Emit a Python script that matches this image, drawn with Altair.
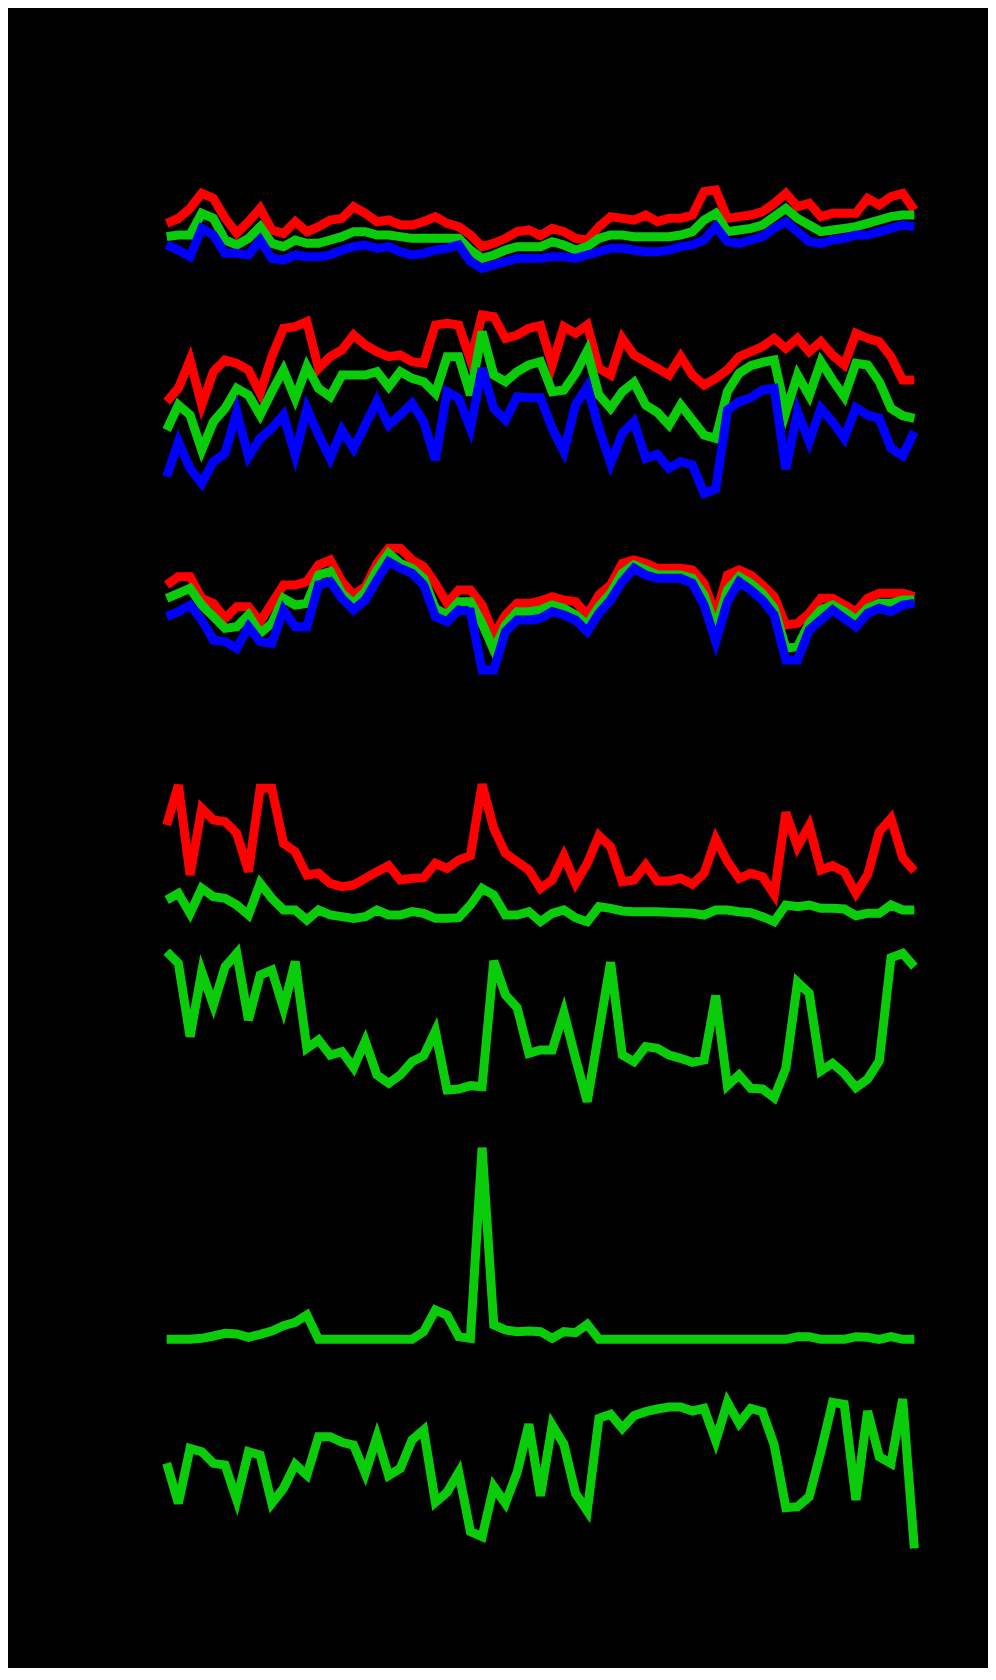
import altair as alt
import pandas as pd

idx = list(range(65))

# Panel A (three close RGB series)
a_red = [85.5, 87.0, 90.0, 94.5, 93.0, 87.0, 82.5, 86.0, 90.0, 83.5,
         82.5, 86.0, 83.0, 84.5, 86.5, 87.0, 90.5, 88.5, 86.0, 86.5,
         85.0, 85.0, 86.0, 87.5, 85.5, 84.5, 82.0, 78.5, 79.5, 81.0,
         83.0, 83.5, 81.8, 84.0, 83.0, 81.0, 80.5, 84.5, 87.5, 87.0,
         86.5, 88.0, 86.0, 87.0, 87.0, 88.0, 95.0, 95.5, 87.0, 87.5,
         88.0, 89.0, 91.5, 94.5, 90.5, 91.5, 87.5, 88.5, 88.5, 88.5,
         93.0, 91.0, 93.5, 94.5, 89.5]
a_green = [81.5, 82.0, 82.0, 88.5, 87.0, 80.5, 79.0, 81.0, 84.5, 79.5,
           78.5, 80.5, 79.5, 79.5, 80.5, 81.5, 83.0, 83.0, 82.0, 82.0,
           81.5, 81.0, 81.0, 81.0, 81.0, 81.0, 77.5, 75.0, 76.0, 77.5,
           78.5, 78.5, 78.5, 80.0, 79.0, 77.5, 78.5, 81.0, 82.0, 82.0,
           81.5, 81.5, 81.5, 81.5, 82.0, 83.0, 86.5, 88.5, 83.0, 83.5,
           84.0, 85.0, 87.5, 90.0, 87.0, 85.0, 83.0, 83.5, 84.0, 84.5,
           85.5, 86.5, 87.5, 88.0, 88.0]
a_blue = [79.0, 77.5, 75.5, 84.0, 82.0, 76.5, 76.5, 76.0, 80.5, 75.0,
          74.5, 76.0, 75.5, 75.5, 76.0, 77.5, 78.5, 79.0, 78.0, 78.5,
          77.0, 76.0, 76.5, 77.5, 78.0, 79.0, 74.0, 72.0, 73.0, 74.0,
          75.0, 75.0, 75.0, 75.5, 75.5, 75.0, 76.0, 77.0, 78.0, 78.0,
          77.5, 77.0, 77.0, 77.5, 78.5, 79.0, 80.5, 84.5, 80.0, 79.5,
          80.5, 81.5, 84.0, 86.0, 83.0, 80.0, 79.5, 80.5, 81.0, 82.0,
          82.0, 83.0, 84.0, 85.0, 84.5]

# Panel B (spread RGB series)
b_red = [32.5, 36.5, 45.0, 31.5, 41.5, 45.0, 44.0, 42.0, 35.0, 46.0,
         54.5, 55.0, 56.5, 42.5, 46.0, 48.0, 52.5, 49.5, 47.5, 46.0,
         46.5, 44.5, 44.0, 55.5, 56.0, 55.5, 45.0, 58.5, 58.0, 51.5,
         52.5, 54.5, 55.3, 43.5, 55.0, 53.0, 55.5, 42.5, 40.5, 51.5,
         46.5, 44.5, 42.5, 40.5, 46.0, 40.5, 37.5, 39.5, 42.0, 46.0,
         47.5, 49.0, 51.5, 48.5, 51.5, 47.5, 50.5, 46.5, 43.5, 53.0,
         51.5, 50.5, 46.0, 39.0, 39.0]
b_green = [24.0, 31.5, 28.5, 18.0, 26.5, 30.5, 36.5, 34.5, 28.5, 35.5,
           42.0, 33.5, 43.0, 36.5, 34.0, 40.5, 40.5, 40.5, 41.5, 37.0,
           41.5, 39.5, 38.5, 35.0, 46.0, 46.0, 34.5, 53.5, 40.5, 38.5,
           41.5, 43.5, 44.5, 35.5, 36.0, 41.0, 47.7, 34.5, 30.5, 35.5,
           38.3, 31.5, 29.3, 25.5, 31.5, 27.0, 22.5, 21.5, 35.5, 41.0,
           43.3, 44.3, 45.0, 29.3, 40.5, 34.3, 44.5, 39.0, 34.0, 44.0,
           43.5, 38.5, 30.5, 28.3, 27.5]
b_blue = [10.0, 20.5, 12.5, 8.0, 14.5, 17.0, 29.5, 16.0, 21.5, 24.5,
          28.5, 16.5, 30.5, 22.5, 15.5, 24.0, 18.5, 25.5, 32.7, 25.5,
          28.5, 32.0, 26.5, 15.0, 35.5, 33.5, 24.5, 42.5, 30.5, 27.0,
          34.0, 33.7, 33.7, 24.5, 17.5, 31.5, 37.0, 24.5, 14.0, 23.0,
          26.5, 15.5, 16.7, 12.5, 14.5, 13.5, 5.0, 6.3, 30.0, 32.5,
          33.7, 36.0, 36.5, 12.3, 29.5, 20.5, 30.5, 26.5, 21.5, 30.7,
          28.5, 27.5, 18.5, 16.3, 23.5]

# Panel C (overlapping RGB series)
c_red = [85.0, 87.5, 87.5, 81.0, 79.5, 75.0, 78.5, 78.5, 74.0, 79.5,
         85.0, 85.0, 86.0, 91.0, 92.5, 86.0, 82.0, 84.5, 91.5, 96.0,
         96.0, 92.5, 90.5, 85.5, 79.5, 83.5, 83.5, 79.0, 70.0, 76.0,
         79.5, 79.5, 80.2, 81.5, 80.5, 80.0, 76.0, 82.0, 85.0, 91.5,
         92.5, 91.5, 90.0, 90.0, 90.0, 89.5, 85.5, 76.0, 88.0, 89.5,
         88.0, 85.0, 81.5, 73.0, 73.5, 76.5, 81.0, 81.0, 79.0, 77.0,
         81.0, 82.5, 82.5, 82.5, 81.5]
c_green = [81.0, 82.5, 84.0, 79.0, 75.5, 72.0, 72.5, 76.0, 70.5, 73.5,
           81.0, 79.0, 79.5, 88.0, 89.0, 82.5, 79.5, 83.0, 89.5, 94.5,
           91.5, 90.0, 87.0, 78.0, 76.0, 80.0, 80.0, 73.5, 65.5, 73.0,
           77.0, 77.0, 77.5, 79.0, 78.0, 76.0, 73.0, 78.5, 82.5, 88.5,
           91.0, 89.5, 88.0, 88.0, 88.0, 87.0, 82.0, 72.0, 83.5, 87.5,
           85.5, 82.5, 78.0, 66.0, 66.5, 73.5, 77.5, 79.0, 77.0, 74.5,
           78.0, 79.5, 79.5, 80.5, 80.5]
c_blue = [75.5, 77.0, 79.0, 74.5, 68.5, 68.0, 66.0, 72.5, 68.0, 67.5,
          77.5, 72.5, 72.5, 85.0, 86.0, 81.0, 77.5, 80.5, 86.5, 92.0,
          90.0, 88.5, 85.0, 75.5, 74.0, 77.5, 77.0, 59.5, 59.5, 71.0,
          74.5, 74.5, 75.0, 77.0, 76.0, 74.5, 71.0, 76.5, 80.5, 86.0,
          90.0, 88.0, 87.0, 87.0, 87.0, 85.5, 79.0, 68.0, 80.0, 86.0,
          83.5, 80.5, 76.0, 62.5, 62.5, 71.5, 74.5, 77.5, 75.0, 72.5,
          76.5, 78.0, 77.0, 79.0, 79.5]

# Panel D (red + green)
d_red = [33.0, 45.0, 18.0, 38.0, 34.5, 34.0, 30.5, 19.0, 44.0, 44.0,
         27.5, 25.0, 18.0, 18.5, 15.5, 14.5, 15.0, 17.0, 19.0, 20.8,
         16.5, 17.0, 17.2, 21.5, 20.0, 22.5, 23.8, 45.2, 32.0, 24.5,
         22.0, 19.5, 14.0, 16.5, 23.8, 15.5, 21.5, 29.8, 26.5, 16.0,
         16.5, 21.0, 16.2, 16.2, 17.0, 15.2, 18.5, 28.8, 22.0, 17.0,
         18.5, 17.5, 12.2, 36.8, 26.5, 32.8, 19.5, 20.8, 19.0, 12.5,
         18.0, 31.0, 35.0, 23.2, 19.2]
d_green = [10.5, 12.5, 6.5, 14.0, 11.5, 11.0, 9.0, 6.0, 15.5, 11.0,
           7.5, 7.5, 4.5, 7.5, 6.0, 5.5, 5.0, 5.5, 7.5, 6.0,
           6.0, 7.0, 6.5, 5.0, 5.0, 5.2, 9.0, 14.0, 12.0, 6.0,
           6.0, 7.0, 4.0, 6.5, 7.5, 5.2, 4.0, 8.5, 8.0, 7.2,
           7.0, 7.0, 7.0, 6.8, 6.7, 6.5, 6.0, 7.5, 7.5, 7.0,
           6.7, 5.5, 4.0, 9.0, 8.5, 9.0, 8.0, 8.0, 7.8, 5.8,
           6.5, 6.5, 9.0, 7.5, 7.5]

# Panel E (green)
e_green = [95.0, 91.5, 69.5, 89.0, 79.0, 90.5, 94.5, 74.5, 88.0, 89.5,
           78.0, 92.0, 66.0, 68.5, 64.0, 65.0, 60.2, 68.2, 58.0, 55.5,
           58.0, 62.0, 63.8, 71.2, 53.5, 53.8, 54.8, 54.5, 92.2, 82.0,
           78.2, 64.5, 65.5, 65.5, 76.8, 63.0, 50.0, 71.0, 91.8, 64.0,
           62.0, 66.5, 66.0, 64.0, 63.0, 61.8, 62.5, 81.8, 54.8, 58.0,
           54.0, 53.8, 51.2, 60.0, 85.8, 82.5, 59.2, 61.5, 58.5, 54.2,
           56.8, 62.2, 93.2, 94.5, 90.5]

# Panel F (green, single spike)
f_green = [0, 0, 0, 0.3, 1.0, 1.8, 1.6, 0.6, 1.5, 2.5,
           4.1, 5.1, 7.3, 0, 0, 0, 0, 0, 0, 0,
           0, 0, 2.3, 8.8, 7.3, 0.8, 0.3, 57.5, 4.3, 2.8,
           2.3, 2.5, 2.3, 0.3, 2.3, 2.0, 4.5, 0, 0, 0,
           0, 0, 0, 0, 0, 0, 0, 0, 0, 0,
           0, 0, 0, 0, 0.8, 0.8, 0, 0, 0, 0.8,
           0.6, 0, 0.8, 0, 0]

# Panel G (green)
g_green = [76.5, 64.5, 81.0, 80.0, 76.5, 76.0, 65.5, 80.0, 79.0, 64.5,
           69.0, 76.2, 73.0, 84.5, 84.5, 82.8, 82.0, 73.5, 84.5, 72.8,
           75.0, 83.5, 86.5, 64.8, 67.8, 73.8, 56.0, 54.5, 69.5, 64.5,
           73.8, 88.2, 66.8, 88.0, 82.2, 67.5, 62.2, 90.0, 91.2, 87.0,
           90.8, 92.0, 92.8, 93.4, 93.4, 92.2, 93.0, 83.2, 94.8, 88.5,
           93.0, 92.0, 82.0, 63.2, 63.5, 66.5, 80.0, 94.8, 94.2, 65.5,
           92.2, 78.5, 76.5, 95.8, 51.0]

RED = "#ff0000"
GREEN = "#0acc0a"
BLUE = "#0000ff"
W = 757
SW = 9
X_DOMAIN = [-0.4, 64.4]


def panel(series, lo, hi, h):
    layers = []
    for vals, col in series:
        df = pd.DataFrame({"i": idx, "v": vals})
        layers.append(
            alt.Chart(df)
            .mark_line(color=col, strokeWidth=SW, clip=True)
            .encode(
                x=alt.X("i:Q", axis=None,
                        scale=alt.Scale(domain=X_DOMAIN, nice=False, zero=False)),
                y=alt.Y("v:Q", axis=None,
                        scale=alt.Scale(domain=[lo, hi], nice=False, zero=False)),
            )
        )
    return alt.layer(*layers).properties(width=W, height=h)


panels = [
    panel([(a_red, RED), (a_green, GREEN), (a_blue, BLUE)], 65.5, 100, 115),
    panel([(b_red, RED), (b_green, GREEN), (b_blue, BLUE)], 0, 66, 220),
    panel([(c_red, RED), (c_green, GREEN), (c_blue, BLUE)], 43, 107.5, 215),
    panel([(d_red, RED), (d_green, GREEN)], 0, 63, 210),
    panel([(e_green, GREEN)], 41.5, 100, 195),
    panel([(f_green, GREEN)], -6.2, 62.8, 230),
    panel([(g_green, GREEN)], 44.5, 107.5, 210),
]

chart = (
    alt.vconcat(*panels, spacing=0)
    .properties(background="black",
                padding={"left": 154, "top": 167, "right": 69, "bottom": 98})
    .configure_view(strokeWidth=0)
)

chart.save("out.html", embed_options={"renderer": "svg", "actions": False})
